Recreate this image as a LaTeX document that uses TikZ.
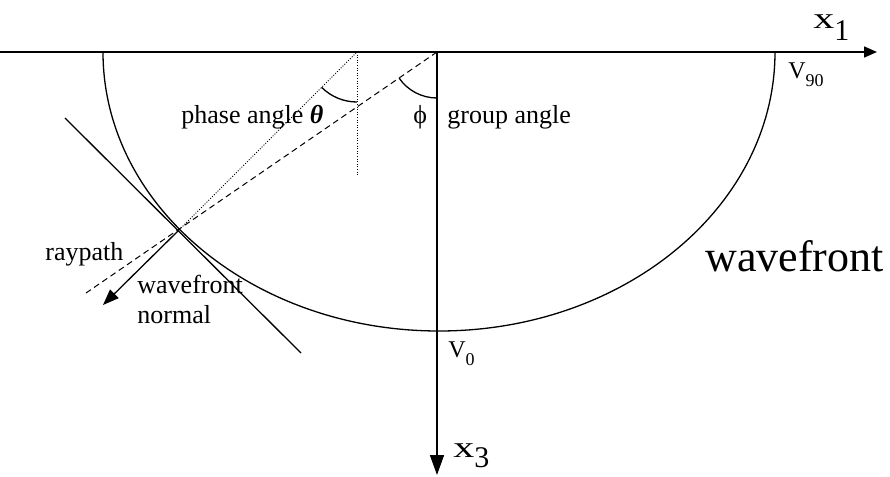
\documentclass[tikz,border=0pt]{standalone}
\usepackage{fontspec}
\setmainfont{Liberation Serif}
\usetikzlibrary{arrows.meta}

\begin{document}
\begin{tikzpicture}[x=0.5pt, y=0.5pt,
    smallText/.style={inner sep=0pt, anchor=base west, font=\fontsize{13}{15}\selectfont},
    axisText/.style={inner sep=0pt, anchor=base west, font=\fontsize{15}{17}\selectfont},
    velText/.style={inner sep=0pt, anchor=base west, font=\fontsize{12}{14}\selectfont},
    bigText/.style={inner sep=0pt, anchor=base west, font=\fontsize{22}{26}\selectfont}]
    \useasboundingbox (-437,52) rectangle (453,-425);

    % Key points
    \coordinate (O) at (0,0);
    \coordinate (T) at (-258,-178);
    \coordinate (P) at (-80,0);

    % Axes
    \coordinate (xStart) at (-437,0);
    \coordinate (xEnd) at (440,0);
    \coordinate (zEnd) at (0,-423);
    \draw[line width=0.8pt,-{Triangle[length=6.5pt,width=5.5pt]}] (xStart) -- (xEnd);
    \draw[line width=0.8pt,-{Triangle[length=10pt,width=7pt]}] (O) -- (zEnd);

    % Wavefront
    \coordinate (wLeft) at (-334,0);
    \draw[line width=0.65pt] (wLeft) arc[start angle=180, end angle=360, x radius=336, y radius=279];

    % Tangent to the wavefront at T
    \coordinate (tanA) at (-372,-66);
    \coordinate (tanB) at (-136,-301);
    \draw[line width=0.65pt] (tanA) -- (tanB);

    % Raypath and wavefront normal
    \coordinate (rayEnd) at (-351,-241);
    \coordinate (normEnd) at (-334,-253);
    \draw[line width=0.5pt, dash pattern=on 3pt off 2pt] (O) -- (rayEnd);
    \draw[line width=0.65pt,-{Triangle[length=8pt,width=6pt]}] (T) -- (normEnd);

    % Phase direction
    \coordinate (pBot) at (-80,-123);
    \draw[line width=0.4pt, dash pattern=on 0.5pt off 0.8pt] (T) -- (P);
    \draw[line width=0.4pt, dash pattern=on 0.5pt off 0.8pt] (P) -- (pBot);

    % Angles
    \draw[line width=0.65pt] (P) ++(225:50) arc[start angle=225, end angle=270, radius=50];
    \draw[line width=0.65pt] (O) ++(214.6:46) arc[start angle=214.6, end angle=270, radius=46];

    % Labels
    \node[smallText] (phaseLbl) at (-256,-71) {phase angle {\bfseries\itshape θ}};
    \node[smallText] (phiLbl) at (-24,-71) {ϕ};
    \node[smallText] (groupLbl) at (10,-71) {group angle};
    \node[smallText] (rayLbl) at (-392,-208) {raypath};
    \node[smallText, align=left] (normLbl) at (-300,-271) {wavefront\\normal};
    \node[bigText] (waveLbl) at (268,-219) {wavefront};
    \node[velText] (vZero) at (11,-305) {V\raisebox{-4pt}{\fontsize{9}{9}\selectfont 0}};
    \node[velText] (vNinety) at (351,-26) {V\raisebox{-4pt}{\fontsize{9}{9}\selectfont 90}};
    \node[axisText] (xOne) at (376,24) {\scalebox{1.4}[1]{x}\raisebox{-6pt}{1}};
    \node[axisText] (xThree) at (16,-405) {\scalebox{1.4}[1]{x}\raisebox{-5pt}{3}};

\end{tikzpicture}
\end{document}
